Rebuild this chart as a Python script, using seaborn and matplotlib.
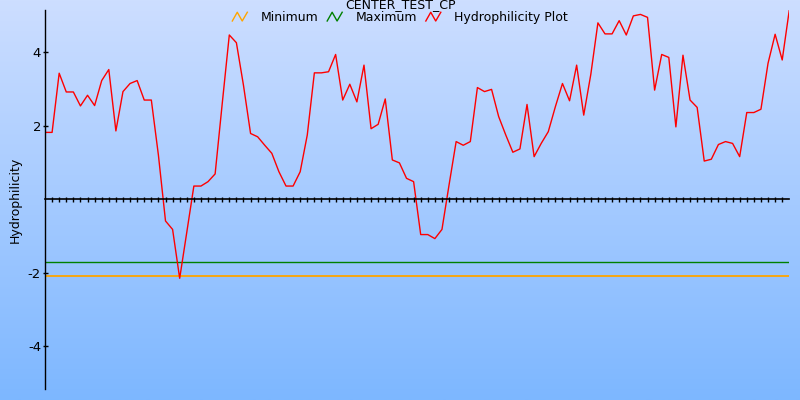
import numpy as np
import pandas as pd
import matplotlib
matplotlib.use('Agg')
import matplotlib.pyplot as plt
import seaborn as sns
from matplotlib.lines import Line2D
from matplotlib.legend_handler import HandlerBase

# Hydrophilicity values, one per residue window
hydro = [1.82, 1.82, 3.43, 2.92, 2.92, 2.54, 2.83, 2.55, 3.23, 3.53,
         1.86, 2.93, 3.15, 3.23, 2.70, 2.70, 1.20, -0.59, -0.82, -2.15,
         -0.90, 0.36, 0.36, 0.48, 0.69, 2.60, 4.47, 4.26, 3.10, 1.79,
         1.70, 1.47, 1.25, 0.75, 0.36, 0.36, 0.75, 1.75, 3.44, 3.44,
         3.47, 3.94, 2.70, 3.13, 2.65, 3.65, 1.92, 2.04, 2.73, 1.07,
         0.99, 0.57, 0.48, -0.96, -0.96, -1.07, -0.82, 0.39, 1.57, 1.47,
         1.57, 3.04, 2.93, 2.99, 2.25, 1.75, 1.28, 1.37, 2.58, 1.16,
         1.52, 1.84, 2.52, 3.15, 2.68, 3.65, 2.29, 3.40, 4.80, 4.50,
         4.50, 4.86, 4.47, 4.99, 5.03, 4.95, 2.97, 3.94, 3.86, 1.97,
         3.92, 2.70, 2.50, 1.04, 1.09, 1.49, 1.57, 1.52, 1.16, 2.36,
         2.36, 2.45, 3.70, 4.49, 3.79, 5.15]
minimum = -2.10
maximum = -1.70
title = 'CENTER_TEST_CP'
series_names = ['Minimum', 'Maximum', 'Hydrophilicity Plot']
series_colors = ['orange', 'green', 'red']
ytick_vals = [-4, -2, 2, 4]

df = pd.DataFrame({'pos': np.arange(len(hydro)), 'value': hydro})
n = len(hydro)

fig = plt.figure(figsize=(8, 4), dpi=100)

# gradient background
bg = fig.add_axes([0, 0, 1, 1], zorder=-10)
top = np.array([205, 222, 255]) / 255
bot = np.array([125, 183, 255]) / 255
t = np.linspace(0, 1, 256)[:, None]
grad = (top * (1 - t) + bot * t)[:, None, :]
bg.imshow(grad, aspect='auto', extent=[0, 1, 0, 1])
bg.axis('off')

ax = fig.add_axes([45 / 800, 1 - 389.3 / 400, (789.3 - 45) / 800, (389.3 - 10) / 400])
ax.patch.set_alpha(0)

ax.hlines(minimum, 0, n - 1, color=series_colors[0], lw=1.3)
ax.hlines(maximum, 0, n - 1, color=series_colors[1], lw=1)
sns.lineplot(data=df, x='pos', y='value', color=series_colors[2], lw=1, ax=ax)

ax.set_xlim(0, n - 1)
ax.set_ylim(-5.17, 5.15)

for s in ['top', 'right']:
    ax.spines[s].set_visible(False)
ax.spines['bottom'].set_position(('data', 0))
ax.spines['bottom'].set_linewidth(1.2)
ax.spines['left'].set_linewidth(1)

ax.set_xticks(np.arange(1, n - 1))
ax.set_xticklabels([])
ax.tick_params(axis='x', direction='inout', length=3.6, width=1)
ax.set_yticks(ytick_vals)
ax.set_yticklabels([str(v) for v in ytick_vals], fontsize=9.5)
ax.tick_params(axis='y', direction='inout', length=3.6, width=1, pad=1)
ax.set_xlabel('')
ax.set_ylabel('Hydrophilicity', fontsize=9)
ax.yaxis.set_label_coords(-0.031, 0.5)


class ZigZag(HandlerBase):
    def create_artists(self, legend, orig_handle, xdescent, ydescent,
                       width, height, fontsize, trans):
        xs = np.array([0, 0.33, 0.66, 1.0]) * width - xdescent
        ys = np.array([0.0, 1.0, 0.0, 1.0]) * height - ydescent
        ln = Line2D(xs, ys, color=orig_handle.get_color(), lw=1, transform=trans)
        return [ln]


handles = [Line2D([], [], color=c) for c in series_colors]
fig.legend(handles, series_names, loc='center', bbox_to_anchor=(0.5, 1 - 17.5 / 400),
           ncol=3, frameon=False, fontsize=9, handlelength=1.2, handleheight=0.7,
           handletextpad=1.05, columnspacing=0.72, borderpad=0,
           handler_map={Line2D: ZigZag()})
fig.text(0.5, 1 - 5 / 400, title, ha='center', va='center', fontsize=9)

fig.savefig('out.png', dpi=100)
